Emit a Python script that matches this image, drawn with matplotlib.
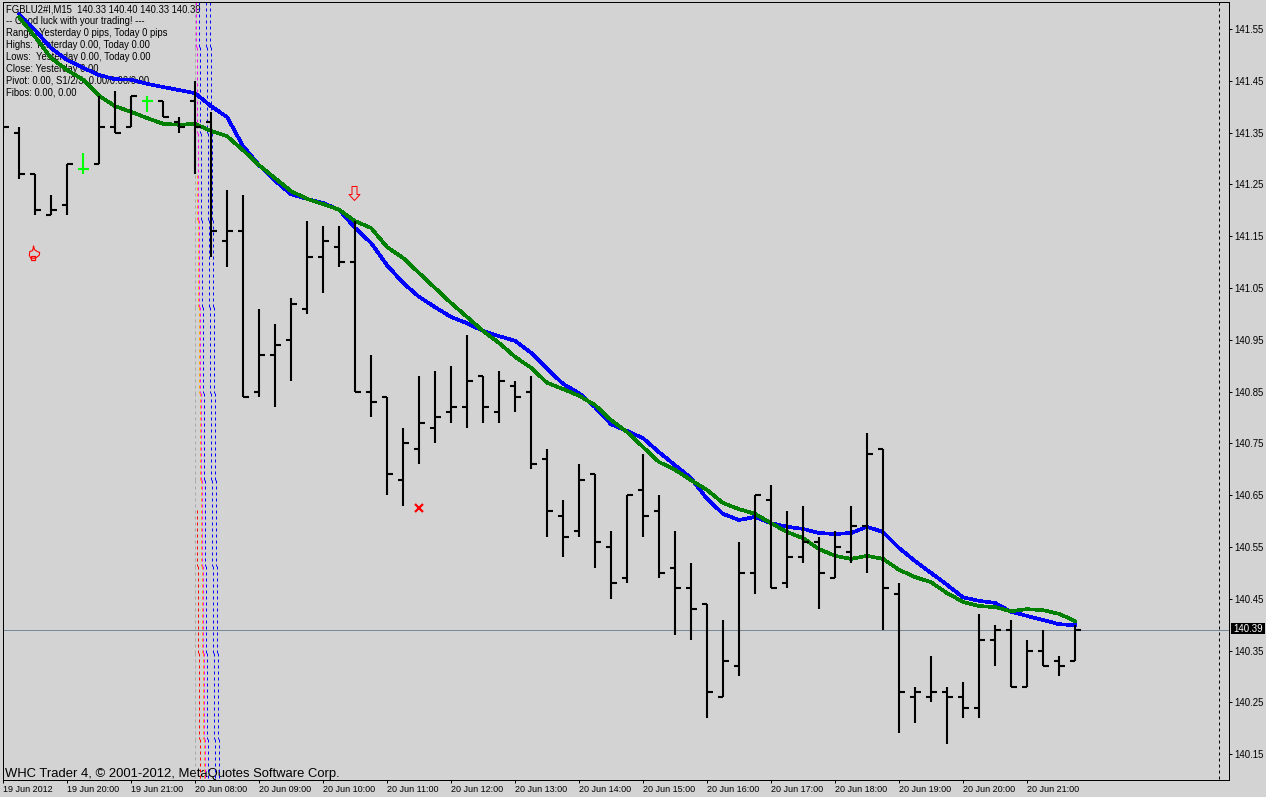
import matplotlib
matplotlib.use("Agg")
import matplotlib.pyplot as plt
import matplotlib.patches as patches
from matplotlib.path import Path

plt.rcParams['font.family'] = ['Liberation Sans', 'DejaVu Sans']

# M15 bars, one entry per bar from left to right
opens = [141.40, 141.35, 141.27, 141.19, 141.21, 141.28, 141.29, 141.36, 141.36, 141.41,
         141.41, 141.37, 141.41, 141.37, 141.14, 141.16, 140.85, 140.92, 140.95, 141.01,
         141.11, 141.13, 141.10, 140.85, 140.84, 140.68, 140.74, 140.78, 140.81, 140.82,
         140.88, 140.81, 140.86, 140.85, 140.72, 140.61, 140.58, 140.69, 140.55, 140.49,
         140.66, 140.62, 140.51, 140.47, 140.44, 140.26, 140.32, 140.50, 140.64, 140.48,
         140.53, 140.56, 140.49, 140.54, 140.59, 140.74, 140.46, 140.26, 140.26, 140.27,
         140.26, 140.24, 140.37, 140.39, 140.28, 140.35, 140.33, 140.33]
highs = [141.49, 141.36, 141.27, 141.23, 141.29, 141.31, 141.42, 141.43, 141.42, 141.42,
         141.41, 141.38, 141.45, 141.39, 141.24, 141.23, 141.01, 140.98, 141.03, 141.18,
         141.17, 141.17, 141.18, 140.92, 140.84, 140.78, 140.88, 140.89, 140.90, 140.96,
         140.88, 140.89, 140.87, 140.88, 140.74, 140.64, 140.71, 140.69, 140.58, 140.65,
         140.73, 140.65, 140.58, 140.52, 140.44, 140.41, 140.56, 140.65, 140.67, 140.62,
         140.63, 140.57, 140.58, 140.63, 140.77, 140.74, 140.48, 140.28, 140.34, 140.28,
         140.29, 140.42, 140.40, 140.41, 140.37, 140.39, 140.34, 140.40]
lows = [141.35, 141.26, 141.19, 141.19, 141.19, 141.27, 141.29, 141.35, 141.36, 141.39,
        141.38, 141.35, 141.27, 141.11, 141.09, 140.84, 140.84, 140.82, 140.87, 141.00,
        141.04, 141.09, 140.85, 140.80, 140.65, 140.63, 140.71, 140.75, 140.79, 140.78,
        140.79, 140.79, 140.81, 140.70, 140.57, 140.53, 140.57, 140.51, 140.45, 140.48,
        140.57, 140.49, 140.38, 140.37, 140.22, 140.26, 140.30, 140.46, 140.47, 140.47,
        140.52, 140.43, 140.49, 140.52, 140.50, 140.39, 140.19, 140.21, 140.25, 140.17,
        140.22, 140.22, 140.32, 140.28, 140.28, 140.32, 140.30, 140.33]
closes = [141.36, 141.27, 141.20, 141.20, 141.29, 141.28, 141.36, 141.35, 141.42, 141.41,
          141.38, 141.36, 141.36, 141.16, 141.16, 140.84, 140.92, 140.94, 141.02, 141.11,
          141.14, 141.10, 140.85, 140.83, 140.69, 140.75, 140.79, 140.80, 140.82, 140.87,
          140.82, 140.87, 140.84, 140.71, 140.62, 140.57, 140.68, 140.56, 140.48, 140.65,
          140.61, 140.50, 140.47, 140.43, 140.27, 140.33, 140.50, 140.65, 140.47, 140.53,
          140.56, 140.50, 140.55, 140.59, 140.73, 140.47, 140.27, 140.27, 140.27, 140.26,
          140.24, 140.37, 140.39, 140.28, 140.35, 140.32, 140.32, 140.39]
green_bars = [5, 9]

# moving averages start at the second bar
ma_blue = [141.579, 141.548, 141.513, 141.490, 141.475, 141.461, 141.453, 141.452, 141.444,
           141.438, 141.432, 141.426, 141.401, 141.380, 141.324, 141.287, 141.257, 141.231,
           141.222, 141.214, 141.201, 141.166, 141.137, 141.094, 141.060, 141.033, 141.013,
           140.994, 140.982, 140.967, 140.957, 140.948, 140.925, 140.894, 140.865, 140.847,
           140.820, 140.787, 140.774, 140.760, 140.733, 140.708, 140.683, 140.643, 140.614,
           140.602, 140.608, 140.596, 140.589, 140.585, 140.577, 140.575, 140.577, 140.589,
           140.579, 140.548, 140.523, 140.500, 140.477, 140.453, 140.446, 140.442, 140.425,
           140.417, 140.409, 140.401, 140.399]
ma_green = [141.573, 141.535, 141.494, 141.471, 141.452, 141.421, 141.401, 141.390, 141.378,
            141.367, 141.365, 141.367, 141.353, 141.343, 141.316, 141.287, 141.262, 141.237,
            141.222, 141.212, 141.201, 141.179, 141.166, 141.129, 141.108, 141.079, 141.050,
            141.021, 140.994, 140.967, 140.944, 140.917, 140.896, 140.867, 140.855, 140.842,
            140.824, 140.795, 140.772, 140.743, 140.714, 140.699, 140.679, 140.660, 140.635,
            140.623, 140.614, 140.596, 140.579, 140.567, 140.546, 140.533, 140.527, 140.533,
            140.527, 140.506, 140.492, 140.482, 140.461, 140.444, 140.436, 140.434, 140.426,
            140.430, 140.428, 140.421, 140.407]

y_ticks = [141.55, 141.45, 141.35, 141.25, 141.15, 141.05, 140.95, 140.85, 140.75,
           140.65, 140.55, 140.45, 140.35, 140.25, 140.15]
x_labels = ["19 Jun 2012", "19 Jun 20:00", "19 Jun 21:00", "20 Jun 08:00", "20 Jun 09:00",
            "20 Jun 10:00", "20 Jun 11:00", "20 Jun 12:00", "20 Jun 13:00", "20 Jun 14:00",
            "20 Jun 15:00", "20 Jun 16:00", "20 Jun 17:00", "20 Jun 18:00", "20 Jun 19:00",
            "20 Jun 20:00", "20 Jun 21:00"]
last_price = 140.39

header_lines = ["FGBLU2#I,M15  140.33 140.40 140.33 140.39",
                "-- Good luck with your trading! ---",
                "Range: Yesterday 0 pips, Today 0 pips",
                "Highs: Yesterday 0.00, Today 0.00",
                "Lows:  Yesterday 0.00, Today 0.00",
                "Close: Yesterday 0.00",
                "Pivot: 0.00, S1/2/3: 0.00/0.00/0.00",
                "Fibos: 0.00, 0.00"]

W, H = 1266, 797
BG = "#d3d3d3"
Y_TOP, Y_BOTTOM = 141.602, 140.1002

fig = plt.figure(figsize=(W / 100, H / 100), dpi=100, facecolor=BG)
ax = fig.add_axes([3 / W, 1 - 780 / H, 1226 / W, 778 / H], facecolor=BG)
ax.set_xlim(0, 76.625)
ax.set_ylim(Y_BOTTOM, Y_TOP)

# header text goes under everything else
for n, line in enumerate(header_lines):
    ax.text(3 / 1226, 1 - (7.5 + 11.9 * n) / 778, line, transform=ax.transAxes, fontsize=6.85,
            va="center", ha="left", color="black", zorder=1)

# price line
ax.axhline(last_price, color="#778899", lw=0.72, zorder=1.5)

# the trend lines step one pixel (1/16 of a bar) sideways at these prices
step_prices = [141.515, 141.349, 141.181, 141.013, 140.847, 140.679, 140.513, 140.345, 140.179]
# colour, x at the top, price where the line starts
trend_lines = [("#a9a9a9", 12.03, Y_TOP),
               ("#ff00ff", 12.09, Y_TOP),
               ("#ffa500", 11.97, 141.268),
               ("#ff0000", 11.75, 140.621),
               ("#0000ff", 12.28, Y_TOP),
               ("#0000ff", 12.66, Y_TOP),
               ("#0000ff", 12.91, Y_TOP)]
for color, x0, y0 in trend_lines:
    edges = [Y_TOP] + step_prices + [Y_BOTTOM]
    for k in range(len(edges) - 1):
        top = min(edges[k], y0)
        if top <= edges[k + 1]:
            continue
        x = x0 if color == "#a9a9a9" else x0 + k / 16
        ax.plot([x, x], [top, edges[k + 1]], color=color, lw=0.72, ls=(0, (3, 3)), zorder=2)
ax.plot([76, 76], [Y_TOP, Y_BOTTOM], color="black", lw=0.72, ls=(0, (3, 3)), zorder=2)

# moving averages
xs_ma = list(range(1, len(ma_blue) + 1))
ax.plot(xs_ma, ma_blue, color="#0000ff", lw=1.9, antialiased=False, zorder=3)
ax.plot(xs_ma, ma_green, color="#008000", lw=1.9, antialiased=False, zorder=3.1)

# OHLC bars
for i in range(len(opens)):
    c = "#00ff00" if i in green_bars else "black"
    ax.plot([i, i], [lows[i], highs[i]], color=c, lw=1.5, solid_capstyle="butt", zorder=4)
    ax.plot([i - 0.31, i], [opens[i], opens[i]], color=c, lw=1.5, solid_capstyle="butt", zorder=4)
    ax.plot([i, i + 0.38], [closes[i], closes[i]], color=c, lw=1.5, solid_capstyle="butt", zorder=4)

# chart objects
arrow = Path([(-2.5, 7), (2.5, 7), (2.5, -1), (5.5, -1), (0, -7), (-5.5, -1), (-2.5, -1), (-2.5, 7)],
             closed=True)
ax.plot([21.94], [141.233], marker=arrow, ms=10.1, mfc="none", mec="#ff0000", mew=0.72, ls="none", zorder=5)
ax.plot([26], [140.625], marker="x", ms=5.5, mec="#ff0000", mew=1.6, ls="none", zorder=5)
hand = Path([(-1, 7), (0, 3), (3, 1), (5.5, 0), (5, -3), (1, -6), (-4, -6), (-5.5, -3), (-5, 1), (-2, 2), (-1, 7)],
            closed=True)
ax.plot([1.95], [141.119], marker=hand, ms=9.5, mfc="none", mec="#ff0000", mew=0.8, ls="none", zorder=5)
ax.plot([1.87], [141.107], marker="s", ms=3, mfc="none", mec="#ff0000", mew=0.9, ls="none", zorder=5)

ax.text(2 / 1226, 6.5 / 778, "WHC Trader 4, \u00a9 2001-2012, MetaQuotes Software Corp.",
        transform=ax.transAxes, fontsize=9.38, color="black", va="center", ha="left", zorder=1)

# axes, right scale and time scale
for side in ["left", "right", "top", "bottom"]:
    ax.spines[side].set_linewidth(0.72)
    ax.spines[side].set_color("black")
ax.yaxis.tick_right()
ax.set_yticks(y_ticks)
ax.set_yticklabels([f"{v:.2f}" for v in y_ticks])
ax.tick_params(axis="y", length=2.2, width=0.72, pad=1.5, labelsize=6.9, colors="black")
ax.set_xticks(range(0, 4 * len(x_labels), 4))
ax.set_xticklabels(x_labels, ha="left")
ax.tick_params(axis="x", length=2.2, width=0.72, pad=1.5, labelsize=6.5, colors="black")

# current price tag
fig.add_artist(patches.Rectangle((1231 / W, 1 - 634 / H), 34 / W, 11 / H, transform=fig.transFigure,
                                 fc="black", ec="none"))
fig.text(1248 / W, 1 - 628.5 / H, f"{last_price:.2f}", color="white", fontsize=6.9, ha="center", va="center")

fig.savefig("out.png", dpi=100, facecolor=BG)
plt.close(fig)
